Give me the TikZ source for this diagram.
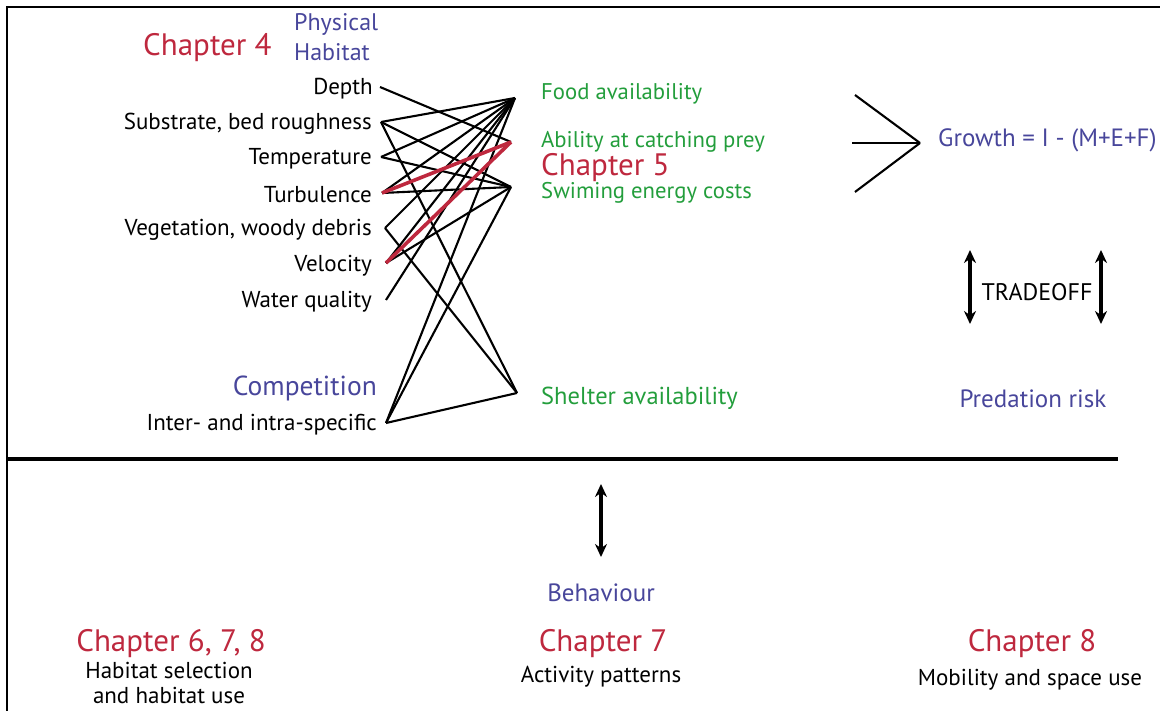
\documentclass[tikz,border=0pt]{standalone}
\usepackage{fontspec}
\setmainfont{PT Sans}
\usetikzlibrary{arrows.meta}
\definecolor{chred}{RGB}{190,40,62}
\definecolor{hblue}{RGB}{72,70,155}
\definecolor{fgreen}{RGB}{35,158,60}
\tikzset{
  body/.style={font=\fontsize{23}{25}\selectfont, inner sep=0pt, text=black, yshift=-2pt},
  chap/.style={font=\fontsize{31}{34}\selectfont, inner sep=0pt, text=chred, yshift=-3pt},
  head/.style={font=\fontsize{25}{28}\selectfont, inner sep=0pt, text=hblue, yshift=-2pt},
  mid/.style={font=\fontsize{22.7}{25}\selectfont, inner sep=0pt, text=fgreen, yshift=-2pt},
  link/.style={line width=2.1pt, black},
  redlink/.style={line width=3.6pt, chred},
  dbl/.style={line width=3.2pt, {Stealth[length=13pt,width=12pt]}-{Stealth[length=13pt,width=12pt]}},
}
\begin{document}
\begin{tikzpicture}[x=1pt,y=-1pt]
\useasboundingbox (0,0) rectangle (1163,711);
% frame
\draw[line width=1.3pt] (7,711) -- (7,7) -- (1160,7);
\draw[line width=3.8pt] (7,459) -- (1118,459);

% titles
\node[chap, anchor=west] (ch4) at (143,45) {Chapter 4};
\node[head, anchor=west, align=left, font=\fontsize{24}{30}\selectfont] (phys) at (294,35) {Physical\\Habitat};

% left factors
\node[body, anchor=east] (tD) at (373,87) {Depth};
\node[body, anchor=east] (tS) at (372,122) {Substrate, bed roughness};
\node[body, anchor=east] (tT) at (372,157) {Temperature};
\node[body, anchor=east] (tU) at (372,193) {Turbulence};
\node[body, anchor=east] (tV) at (372,228) {Vegetation, woody debris};
\node[body, anchor=east] (tVe) at (372,264) {Velocity};
\node[body, anchor=east] (tW) at (372,300) {Water quality};
\node[head, anchor=east, font=\fontsize{27.5}{30}\selectfont] (comp) at (377,386) {Competition};
\node[body, anchor=east] (tI) at (377,423) {Inter- and intra-specific};

% middle
\node[mid, anchor=west] (mF) at (541,92) {Food availability};
\node[mid, anchor=west] (mA) at (541,140) {Ability at catching prey};
\node[chap, anchor=west] (ch5) at (541,165) {Chapter 5};
\node[mid, anchor=west] (mS) at (541,191) {Swiming energy costs};
\node[mid, anchor=west, font=\fontsize{24.5}{27}\selectfont] (mSh) at (541,396) {Shelter availability};

% endpoints
\coordinate (D) at (380,87);
\coordinate (S) at (381,122);
\coordinate (T) at (381,157);
\coordinate (U) at (382,193);
\coordinate (V) at (385,228);
\coordinate (Ve) at (386,263);
\coordinate (W) at (386,300);
\coordinate (I) at (386,423);
\coordinate (F) at (515,98);
\coordinate (A) at (511,142);
\coordinate (Sw) at (511,187);
\coordinate (Sh) at (517,393);

% connectors
\draw[link] (D) -- (A);
\draw[link] (S) -- (F);
\draw[link] (S) -- (Sw);
\draw[link] (S) -- (Sh);
\draw[link] (T) -- (F);
\draw[link] (T) -- (Sw);
\draw[link] (U) -- (F);
\draw[link] (U) -- (Sw);
\draw[link] (V) -- (F);
\draw[link] (V) -- (Sh);
\draw[link] (Ve) -- (F);
\draw[link] (Ve) -- (Sw);
\draw[link] (W) -- (F);
\draw[link] (I) -- (F);
\draw[link] (I) -- (Sw);
\draw[link] (I) -- (Sh);
\draw[redlink] (U) -- (A);
\draw[redlink] (Ve) -- (A);

% growth
\coordinate (g1) at (855,95);
\coordinate (g2) at (852,143);
\coordinate (g3) at (855,192);
\coordinate (gt) at (920,143);
\draw[link] (g1) -- (gt);
\draw[link] (g2) -- (gt);
\draw[link] (g3) -- (gt);
\node[head, anchor=west] (grow) at (938,138) {Growth = I - (M+E+F)};

% tradeoff
\coordinate (ta1) at (970,250);
\coordinate (ta2) at (970,324);
\coordinate (tb1) at (1101,250);
\coordinate (tb2) at (1101,324);
\draw[dbl] (ta1) -- (ta2);
\draw[dbl] (tb1) -- (tb2);
\node[body, anchor=center, font=\fontsize{24}{26}\selectfont] (trade) at (1037,290) {TRADEOFF};
\node[head, anchor=center] (pred) at (1033,397) {Predation risk};

% behaviour
\coordinate (b1) at (601,484);
\coordinate (b2) at (601,557);
\draw[dbl] (b1) -- (b2);
\node[head, anchor=center] (beh) at (601,591) {Behaviour};

% bottom chapters
\node[chap, anchor=center] (ch678) at (171,641) {Chapter 6, 7, 8};
\node[body, anchor=north, align=center, font=\fontsize{23}{25}\selectfont] (hab) at (169,660) {Habitat selection\\and habitat use};
\node[chap, anchor=center] (ch7) at (603,641) {Chapter 7};
\node[body, anchor=center] (act) at (601,675) {Activity patterns};
\node[chap, anchor=center] (ch8) at (1032,641) {Chapter 8};
\node[body, anchor=center] (mob) at (1030,678) {Mobility and space use};
\end{tikzpicture}
\end{document}
